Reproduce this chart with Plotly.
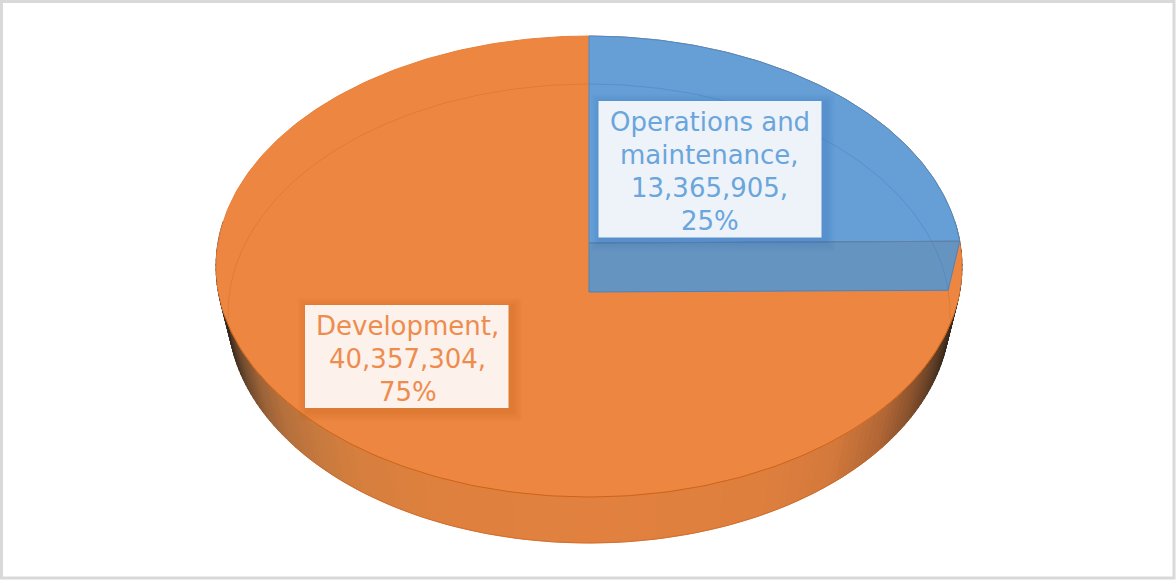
import numpy as np
import plotly.graph_objects as go

# Budget split shown by the pie
categories = [["Operations and", "maintenance,"], ["Development,"]]
values = [13365905, 40357304]
slice_colors = ["#659FD6", "#ED8641"]
edge_colors = ["#4A8ACB", "#CC6418"]
label_colors = ["#6AA5DC", "#EE8C4E"]
label_fills = ["#EEF3FA", "#FCF1EB"]

# Tilted disc geometry: hub height, perspective and scale of each face
CX = 589.0
TOP_FACE = dict(hub=243.0, a=-203.3, c=0.102, s=371.0)
BOTTOM_FACE = dict(hub=292.0, a=-200.1, c=0.0937, s=359.4)

# Side wall brightness along the horizontal axis
WALL_X = [222, 232, 245, 262, 285, 320, 360, 430, 590, 760, 830, 880, 910, 930, 942, 952]
WALL_R = [50, 75, 115, 155, 182, 200, 214, 222, 226, 222, 212, 178, 138, 98, 68, 45]
WALL_G = [38, 52, 76, 98, 112, 122, 127, 128, 129, 127, 121, 102, 82, 62, 47, 35]
WALL_B = [28, 35, 46, 56, 60, 62, 62, 62, 63, 62, 60, 53, 45, 37, 30, 25]


def project(face, theta):
    u, v = np.sin(theta), np.cos(theta)
    w = 1 + face["c"] * v
    return CX + face["s"] * u / w, (face["a"] * v + face["hub"]) / w


def wall_color(x):
    r = np.interp(x, WALL_X, WALL_R)
    g = np.interp(x, WALL_X, WALL_G)
    b = np.interp(x, WALL_X, WALL_B)
    return f"rgb({r:.0f},{g:.0f},{b:.0f})"


total = sum(values)
shares = [v / total for v in values]
cut = 2 * np.pi * shares[0]
fig = go.Figure()


def add_poly(xs, ys, fill=None, line=None, width=1.0):
    fig.add_trace(go.Scatter(
        x=list(xs), y=list(ys), mode="lines",
        fill="toself" if fill else "none", fillcolor=fill,
        line=dict(color=line or "rgba(0,0,0,0)", width=width if line else 0),
        hoverinfo="skip", showlegend=False,
    ))


# Side wall, built from narrow shaded strips along the front of the disc
edges = np.linspace(np.pi * 0.47, np.pi * 1.53, 161)
for t0, t1 in zip(edges[:-1], edges[1:]):
    tx0, ty0 = project(TOP_FACE, t0)
    tx1, ty1 = project(TOP_FACE, t1)
    bx0, by0 = project(BOTTOM_FACE, t0)
    bx1, by1 = project(BOTTOM_FACE, t1)
    color = wall_color((tx0 + tx1 + bx0 + bx1) / 4)
    add_poly([tx0, tx1, bx1, bx0, tx0], [ty0, ty1, by1, by0, ty0], fill=color, line=color, width=1)

# Thin darker rim under the wall
rim = np.linspace(np.pi * 0.72, np.pi * 1.28, 120)
add_poly(*project(BOTTOM_FACE, rim), line="rgba(200,100,35,0.6)", width=1)

# Whole top face in the large slice's colour, then the smaller slice over it
full = np.linspace(0, 2 * np.pi, 361)
add_poly(*project(TOP_FACE, full), fill=slice_colors[1], line="#E88039", width=1)
front = np.linspace(np.pi * 0.6, np.pi * 1.4, 160)
add_poly(*project(TOP_FACE, front), line=edge_colors[1], width=1)

arc = np.linspace(0, cut, 121)
ax, ay = project(TOP_FACE, arc)
hub_x = np.array([CX])
hub_y = np.array([TOP_FACE["hub"]])
add_poly(np.r_[hub_x, ax, hub_x], np.r_[hub_y, ay, hub_y], fill=slice_colors[0], line=edge_colors[0], width=1)

# Inner cut face of the smaller slice
cx_top, cy_top = project(TOP_FACE, np.array([cut]))
cx_bot, cy_bot = project(BOTTOM_FACE, np.array([cut]))
add_poly(
    [CX, cx_top[0], cx_bot[0], CX, CX],
    [TOP_FACE["hub"], cy_top[0], cy_bot[0], BOTTOM_FACE["hub"], TOP_FACE["hub"]],
    fill="#6694C0", line="#4D82BA", width=1,
)
add_poly([CX, cx_top[0]], [TOP_FACE["hub"], cy_top[0]], line="#66829F", width=1)

# Far edge of the lower face, faintly visible through the top
ring_blue = np.linspace(0, cut, 100)
add_poly(*project(BOTTOM_FACE, ring_blue), line="rgba(70,130,200,0.5)", width=1)
ring_orange = np.linspace(cut, 2 * np.pi, 300)
rx, ry = project(BOTTOM_FACE, ring_orange)
keep = ry < 322
add_poly(rx[keep & (rx < CX)], ry[keep & (rx < CX)], line="rgba(205,110,45,0.45)", width=1)
add_poly(rx[keep & (rx > CX)], ry[keep & (rx > CX)], line="rgba(205,110,45,0.45)", width=1)

# Label cards with soft shadows
cards = [(598.5, 101, 821.5, 237.5), (305, 305, 508.5, 408)]
centers = [(709.5, 122), (407.5, 325.5)]
shadow_colors = ["rgba(50,115,185,0.055)", "rgba(190,90,25,0.055)"]
shapes = []
for (x0, y0, x1, y1), shade, fill in zip(cards, shadow_colors, label_fills):
    for grow in (10, 8, 6, 4, 2):
        shapes.append(dict(
            type="rect", x0=x0 - grow + 3, y0=y0 - grow + 3, x1=x1 + grow + 3, y1=y1 + grow + 3,
            xref="x", yref="y", fillcolor=shade, line=dict(width=0), layer="above",
        ))
    shapes.append(dict(
        type="rect", x0=x0, y0=y0, x1=x1, y1=y1, xref="x", yref="y",
        fillcolor=fill, line=dict(width=0), layer="above",
    ))

# Outer frame
shapes.append(dict(
    type="rect", x0=1.5, y0=1.5, x1=1174, y1=578, xref="x", yref="y",
    line=dict(color="#D9D9D9", width=3), fillcolor="rgba(0,0,0,0)", layer="above",
))

# Each label line is placed on its own so the leading stays even
LINE_STEP = 33
annotations = []
for name, val, share, (cx, cy), color in zip(categories, values, shares, centers, label_colors):
    for i, line in enumerate(name + [f"{val:,},", f"{share:.0%}"]):
        annotations.append(dict(
            x=cx, y=cy + i * LINE_STEP, xref="x", yref="y", showarrow=False,
            xanchor="center", yanchor="middle", align="center", text=line,
            font=dict(family="DejaVu Sans", size=26, color=color),
        ))

fig.update_layout(
    width=1176, height=580, margin=dict(l=0, r=0, t=0, b=0),
    paper_bgcolor="white", plot_bgcolor="white", showlegend=False,
    xaxis=dict(range=[0, 1176], visible=False, fixedrange=True),
    yaxis=dict(range=[580, 0], visible=False, fixedrange=True),
    shapes=shapes, annotations=annotations,
)
fig.write_html("out.html", config=dict(displayModeBar=False))
